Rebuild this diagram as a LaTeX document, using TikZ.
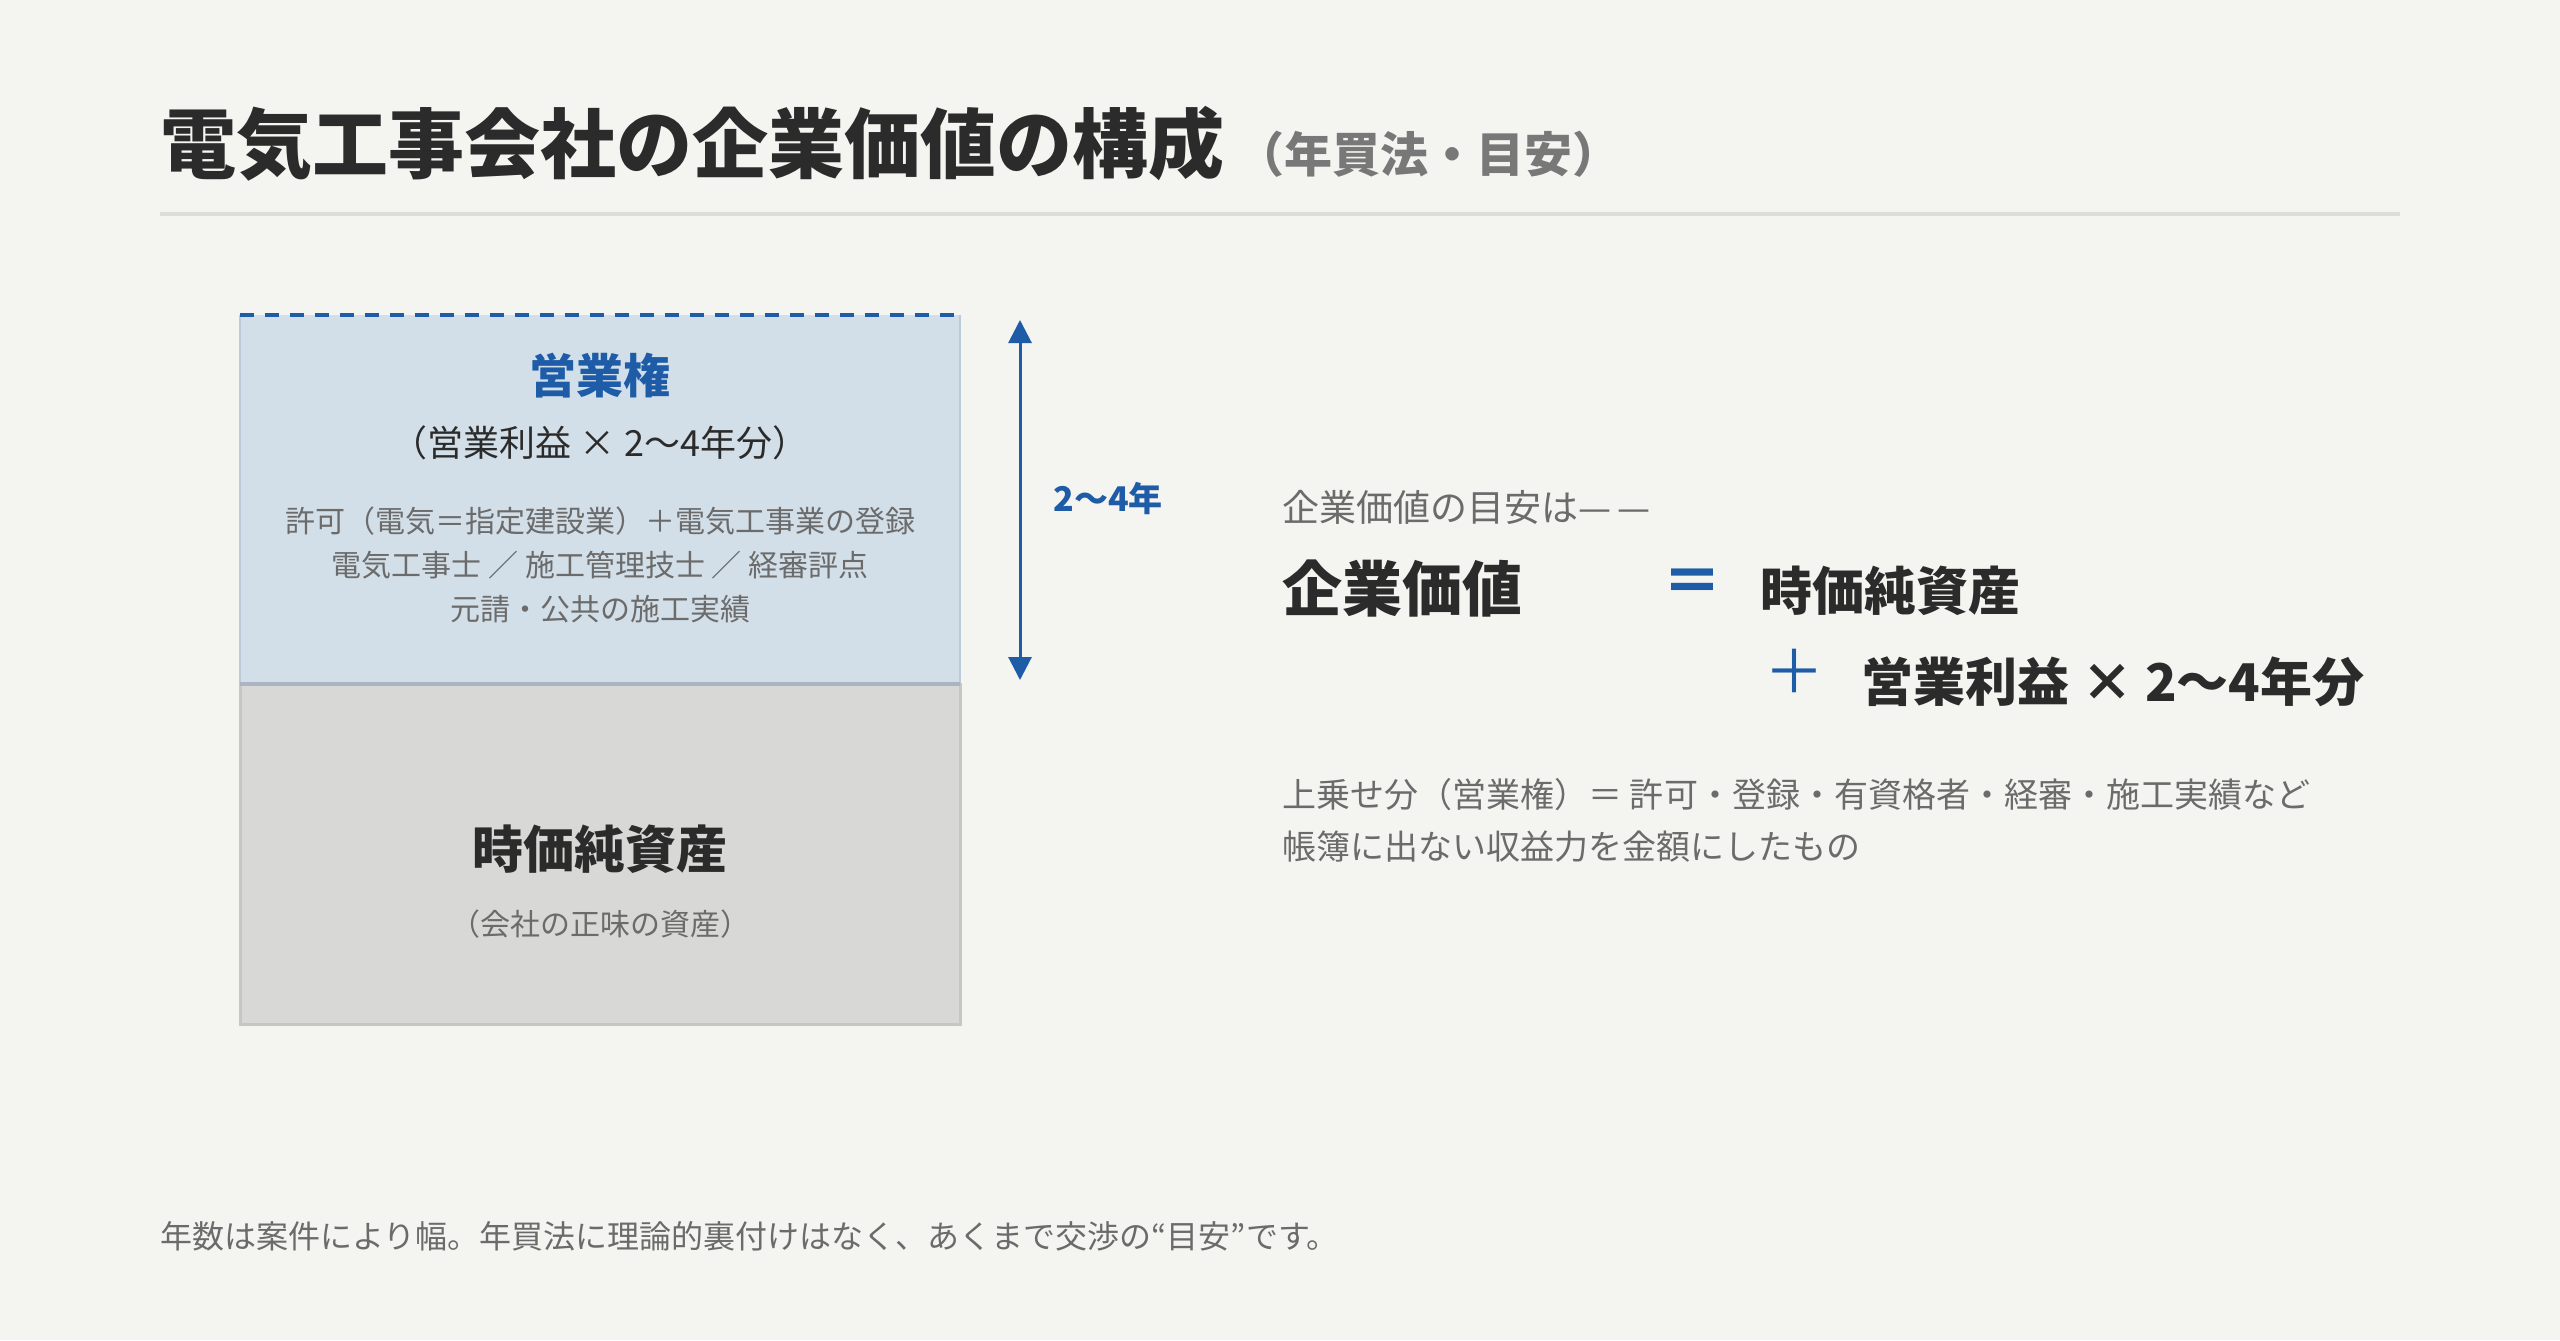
\documentclass[tikz,border=0pt]{standalone}
\usepackage{fontspec}
\setmainfont{Noto Sans CJK JP}
\usepackage{tikz}
\usetikzlibrary{positioning, arrows.meta}
\definecolor{bg}{HTML}{F4F4F0}
\definecolor{ink}{HTML}{2B2B2B}
\definecolor{mute}{HTML}{6B6B6B}
\definecolor{brand}{HTML}{1E5CA8}
\definecolor{gwfill}{HTML}{D3DFE8}
\definecolor{gwside}{HTML}{BCCBD9}
\definecolor{gwdiv}{HTML}{A9B5C1}
\definecolor{nafill}{HTML}{D8D8D6}
\definecolor{naline}{HTML}{C6C6C4}
\definecolor{rule}{HTML}{DCDCD8}
\newcommand{\fsz}[1]{\fontsize{#1}{#1}\selectfont}
\tikzset{
every picture/.style={x=0.5pt, y=-0.5pt},
txt/.style={inner sep=0pt, text=ink},
note/.style={inner sep=0pt, text=mute, font=\fsz{15pt}},
rhs/.style={txt, anchor=west, font=\fsz{26pt}\bfseries},
spantip/.tip={Triangle[width=11.5pt, length=11.5pt]}
}

\begin{document}
\begin{tikzpicture}
  \fill [bg] (0,0) rectangle (2560,1340);

  % heading
  \node [txt, anchor=west, font=\fsz{38pt}\bfseries] (title) at (160,144) {電気工事会社の企業価値の構成};
  \node [txt, anchor=west, text=black!53, font=\fsz{24pt}\bfseries] (subtitle) at (1236,154) {（年買法・目安）};
  \draw [rule, line width=2pt] (160,214) -- (2400,214);

  % stacked boxes
  \node [fill=nafill, draw=naline, line width=1.5pt, minimum width=360pt, minimum height=170pt] (na) at (600,854) {};
  \node [fill=gwfill, minimum width=360pt, minimum height=184.5pt] (gw) at (600,499.5) {};
  \draw [gwside, line width=1pt] (gw.north west) -- (gw.south west) (gw.north east) -- (gw.south east);
  \draw [gwdiv, line width=2pt] (gw.south west) -- (gw.south east);
  \draw [brand, line width=2pt, dash pattern=on 7pt off 5.5pt] (gw.north west) -- (gw.north east);

  \node [txt, text=brand, font=\fsz{23.5pt}\bfseries] (gwname) at (600,376) {営業権};
  \node [txt, font=\fsz{18pt}] (gwcalc) at (600,443) {（営業利益 × 2〜4年分）};
  \foreach \t [count=\i] in {許可（電気＝指定建設業）＋電気工事業の登録, 電気工事士 ／ 施工管理技士 ／ 経審評点, 元請・公共の施工実績} {
    \node [note] (gwitem\i) at (600, 477+44*\i) {\t};
  }

  \node [txt, font=\fsz{25.5pt}\bfseries] (naname) at (600,849) {時価純資産};
  \node [note] (nanote) at (600,924) {（会社の正味の資産）};

  % span of the goodwill part
  \coordinate (spantop) at (1020,320);
  \coordinate (spanbot) at (1020,680);
  \draw [spantip-spantip, brand, line width=1.5pt] (spantop) -- (spanbot);
  \node [txt, anchor=west, text=brand, font=\fsz{17pt}\bfseries] (span) at (1053,499) {2〜4年};

  % formula
  \node [note, anchor=west, font=\fsz{18.5pt}] (lead) at (1282,507) {企業価値の目安は—\kern3pt—};
  \node [txt, anchor=west, font=\fsz{30pt}\bfseries] (ev) at (1282,589) {企業価値};
  \node [txt, text=brand, font=\fsz{30pt}\bfseries] (eq) at (1692,586) {＝};
  \node [rhs] (nav) at (1760,591) {時価純資産};
  \node [txt, text=brand, font=\fsz{30pt}] (plus) at (1794,671) {＋};
  \node [rhs] (oi) at (1861,682) {営業利益 × 2〜4年分};

  \node [note, anchor=west, font=\fsz{17pt}] (expl1) at (1282,795) {上乗せ分（営業権）＝ 許可・登録・有資格者・経審・施工実績など};
  \node [note, anchor=west, font=\fsz{17pt}] (expl2) at (1282,847) {帳簿に出ない収益力を金額にしたもの};

  \node [note, anchor=west, font=\fsz{16pt}] (foot) at (160,1236) {年数は案件により幅。年買法に理論的裏付けはなく、あくまで交渉の“目安”です。};
\end{tikzpicture}
\end{document}
